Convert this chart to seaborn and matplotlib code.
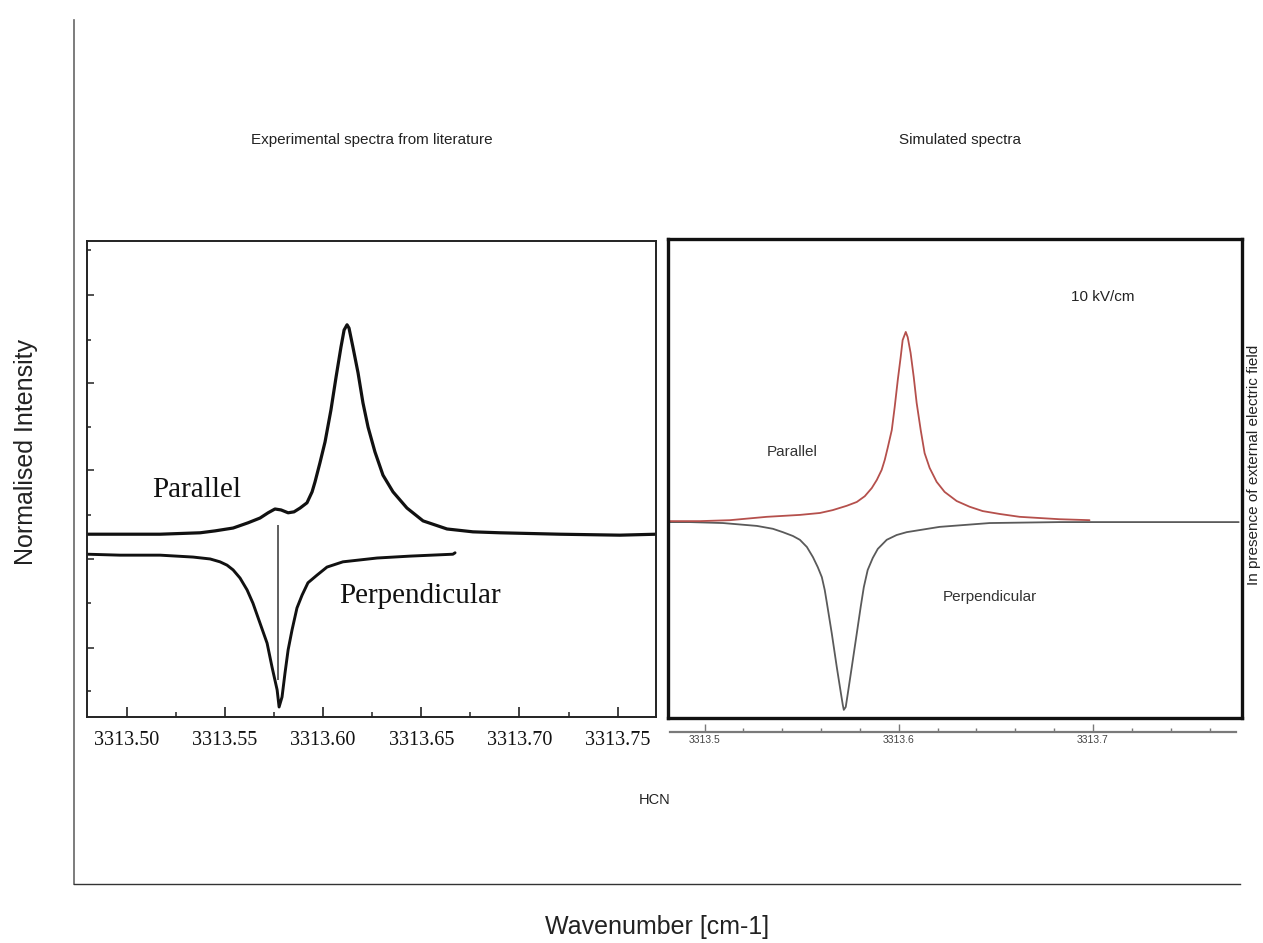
import matplotlib
matplotlib.use("Agg")
import matplotlib.pyplot as plt
import numpy as np
import pandas as pd
import seaborn as sns
from matplotlib.ticker import MultipleLocator, FormatStrFormatter

# ---- Experimental HCN spectra (literature), wavenumber in cm-1, normalised intensity ----
exp_par_wn = [3313.4798, 3313.4966, 3313.5170, 3313.5374, 3313.5450, 3313.5542, 3313.5618,
              3313.5679, 3313.5720, 3313.5755, 3313.5786, 3313.5822, 3313.5852, 3313.5883,
              3313.5918, 3313.5944, 3313.5959, 3313.5984, 3313.6010, 3313.6040, 3313.6066,
              3313.6091, 3313.6107, 3313.6122, 3313.6132, 3313.6152, 3313.6178, 3313.6203,
              3313.6229, 3313.6264, 3313.6305, 3313.6356, 3313.6427, 3313.6509, 3313.6631,
              3313.6763, 3313.6901, 3313.7206, 3313.7511, 3313.7695]
exp_par_int = [0.384, 0.384, 0.384, 0.387, 0.391, 0.397, 0.408,
               0.418, 0.429, 0.437, 0.435, 0.429, 0.431, 0.439,
               0.450, 0.473, 0.494, 0.534, 0.578, 0.645, 0.714,
               0.777, 0.813, 0.824, 0.817, 0.777, 0.723, 0.660,
               0.609, 0.557, 0.508, 0.473, 0.439, 0.412, 0.395,
               0.389, 0.387, 0.384, 0.382, 0.384]

exp_perp_wn = [3313.4798, 3313.4966, 3313.5170, 3313.5338, 3313.5425, 3313.5475, 3313.5511,
               3313.5542, 3313.5577, 3313.5613, 3313.5643, 3313.5679, 3313.5715, 3313.5740,
               3313.5766, 3313.5776, 3313.5791, 3313.5806, 3313.5822, 3313.5842, 3313.5867,
               3313.5893, 3313.5923, 3313.5969, 3313.6020, 3313.6101, 3313.6188, 3313.6275,
               3313.6443, 3313.6661, 3313.6672]
exp_perp_int = [0.342, 0.340, 0.340, 0.336, 0.332, 0.326, 0.319,
                0.309, 0.292, 0.267, 0.239, 0.197, 0.155, 0.105,
                0.057, 0.021, 0.042, 0.092, 0.141, 0.183, 0.229,
                0.256, 0.282, 0.298, 0.315, 0.326, 0.330, 0.334,
                0.338, 0.342, 0.345]

# line-centre marker in the experimental panel
exp_marker_wn = 3313.5773
exp_marker_span = [0.078, 0.403]

# ---- Simulated spectra at 10 kV/cm ----
sim_par_wn = [3313.4812, 3313.4977, 3313.5131, 3313.5321, 3313.5491, 3313.5594, 3313.5660,
              3313.5732, 3313.5784, 3313.5825, 3313.5861, 3313.5887, 3313.5912, 3313.5928,
              3313.5943, 3313.5964, 3313.5979, 3313.5995, 3313.6010, 3313.6020, 3313.6036,
              3313.6046, 3313.6061, 3313.6077, 3313.6092, 3313.6113, 3313.6133, 3313.6159,
              3313.6195, 3313.6236, 3313.6298, 3313.6365, 3313.6432, 3313.6519, 3313.6622,
              3313.6827, 3313.6982]
sim_par_int = [0.411, 0.411, 0.413, 0.420, 0.424, 0.428, 0.434,
               0.443, 0.451, 0.463, 0.480, 0.497, 0.518, 0.539,
               0.564, 0.601, 0.649, 0.706, 0.754, 0.789, 0.806,
               0.795, 0.762, 0.712, 0.658, 0.601, 0.553, 0.522,
               0.493, 0.472, 0.453, 0.441, 0.432, 0.426, 0.420,
               0.415, 0.413]

sim_perp_wn = [3313.4812, 3313.4925, 3313.5095, 3313.5270, 3313.5352, 3313.5403, 3313.5455,
               3313.5491, 3313.5527, 3313.5558, 3313.5583, 3313.5604, 3313.5619, 3313.5630,
               3313.5655, 3313.5681, 3313.5702, 3313.5712, 3313.5717, 3313.5727, 3313.5738,
               3313.5758, 3313.5784, 3313.5804, 3313.5820, 3313.5840, 3313.5866, 3313.5892,
               3313.5938, 3313.5989, 3313.6041, 3313.6210, 3313.6468, 3313.6827, 3313.7750]
sim_perp_int = [0.409, 0.409, 0.407, 0.401, 0.395, 0.388, 0.380,
                0.372, 0.357, 0.336, 0.315, 0.294, 0.267, 0.240,
                0.177, 0.106, 0.052, 0.027, 0.017, 0.023, 0.052,
                0.106, 0.177, 0.232, 0.273, 0.309, 0.334, 0.353,
                0.372, 0.382, 0.388, 0.399, 0.407, 0.409, 0.409]

exp_xticks = [3313.50, 3313.55, 3313.60, 3313.65, 3313.70, 3313.75]
sim_xticks = [3313.5, 3313.6, 3313.7]

sns.set_theme(style="white")
plt.rcParams["font.family"] = ["Liberation Sans", "DejaVu Sans"]

W, H = 1263, 943
fig = plt.figure(figsize=(W / 100, H / 100), dpi=100)


def box(x0, y0, x1, y1):
    return [x0 / W, 1 - y1 / H, (x1 - x0) / W, (y1 - y0) / H]


# ---- outer frame with the shared axis titles ----
ax_f = fig.add_axes(box(74, 20, 1240, 884))
ax_f.patch.set_alpha(0)
ax_f.set_xticks([])
ax_f.set_yticks([])
for s in ["top", "right"]:
    ax_f.spines[s].set_visible(False)
ax_f.spines["left"].set_color("#666666")
ax_f.spines["left"].set_linewidth(1.2)
ax_f.spines["bottom"].set_color("#333333")
ax_f.spines["bottom"].set_linewidth(1.0)
ax_f.set_xlabel("Wavenumber [cm-1]", fontsize=18, labelpad=22, color="#222222")
ax_f.set_ylabel("Normalised Intensity", fontsize=18, labelpad=26, color="#222222")

# ---- experimental panel ----
ax_l = fig.add_axes(box(87, 241, 656, 717))
df_ep = pd.DataFrame({"wn": exp_par_wn, "I": exp_par_int})
df_en = pd.DataFrame({"wn": exp_perp_wn, "I": exp_perp_int})
sns.lineplot(data=df_ep, x="wn", y="I", ax=ax_l, color="#111111", lw=2.3,
             sort=False, estimator=None)
sns.lineplot(data=df_en, x="wn", y="I", ax=ax_l, color="#111111", lw=2.1,
             sort=False, estimator=None)
ax_l.vlines(exp_marker_wn, exp_marker_span[0], exp_marker_span[1], color="#444444", lw=1.2)
ax_l.set_xlim(3313.4798, 3313.7695)
ax_l.set_ylim(0, 1)
ax_l.set_xlabel("")
ax_l.set_ylabel("")
for s in ax_l.spines.values():
    s.set_color("#222222")
    s.set_linewidth(1.4)
ax_l.set_xticks(exp_xticks)
ax_l.xaxis.set_minor_locator(MultipleLocator(0.025))
ax_l.xaxis.set_major_formatter(FormatStrFormatter("%.2f"))
ax_l.set_yticks([0.146, 0.332, 0.518, 0.702, 0.887])
ax_l.set_yticks([0.054, 0.239, 0.424, 0.609, 0.792, 0.981], minor=True)
ax_l.tick_params(axis="x", which="both", bottom=True, direction="in", color="#222222", pad=10)
ax_l.tick_params(axis="x", which="major", length=7, width=1.2)
ax_l.tick_params(axis="x", which="minor", length=3.5, width=1.1)
ax_l.tick_params(axis="y", which="both", left=True, labelleft=False, direction="in", color="#222222")
ax_l.tick_params(axis="y", which="major", length=5, width=1.1)
ax_l.tick_params(axis="y", which="minor", length=3, width=1.1)
for lab in ax_l.get_xticklabels():
    lab.set_fontfamily("Liberation Serif")
    lab.set_fontsize(14.5)
    lab.set_color("#111111")
ax_l.text(3313.5357, 0.463, "Parallel", family="Liberation Serif", fontsize=21,
          ha="center", va="baseline", color="#111111")
ax_l.text(3313.6495, 0.240, "Perpendicular", family="Liberation Serif", fontsize=21,
          ha="center", va="baseline", color="#111111")

# ---- simulated panel ----
ax_r = fig.add_axes(box(668, 239, 1242, 718))
df_sp = pd.DataFrame({"wn": sim_par_wn, "I": sim_par_int})
df_sn = pd.DataFrame({"wn": sim_perp_wn, "I": sim_perp_int})
sns.lineplot(data=df_sn, x="wn", y="I", ax=ax_r, color="#5a5a5a", lw=1.3,
             sort=False, estimator=None)
sns.lineplot(data=df_sp, x="wn", y="I", ax=ax_r, color="#b5504c", lw=1.3,
             sort=False, estimator=None)
ax_r.set_xlim(3313.4812, 3313.7767)
ax_r.set_ylim(0, 1)
ax_r.set_xlabel("")
ax_r.set_ylabel("")
ax_r.set_xticks([])
ax_r.set_yticks([])
for s in ax_r.spines.values():
    s.set_color("#111111")
    s.set_linewidth(2.4)
ax_r.text(3313.5452, 0.546, "Parallel", fontsize=11, ha="center", va="baseline", color="#333333")
ax_r.text(3313.6468, 0.245, "Perpendicular", fontsize=11, ha="center", va="baseline", color="#333333")
ax_r.text(3313.7050, 0.870, "10 kV/cm", fontsize=11, ha="center", va="baseline", color="#222222")

# separate wavenumber scale under the simulated panel
ax_s = fig.add_axes(box(668, 720, 1242, 732))
ax_s.patch.set_alpha(0)
ax_s.set_xlim(3313.4812, 3313.7767)
ax_s.set_yticks([])
for s in ["top", "left", "right"]:
    ax_s.spines[s].set_visible(False)
ax_s.spines["bottom"].set_color("#7a7a7a")
ax_s.spines["bottom"].set_linewidth(1.6)
ax_s.spines["bottom"].set_bounds(3313.4823, 3313.7738)
ax_s.set_xticks(sim_xticks)
ax_s.xaxis.set_minor_locator(MultipleLocator(0.02))
ax_s.xaxis.set_major_formatter(FormatStrFormatter("%.1f"))
ax_s.tick_params(axis="x", which="both", bottom=True, direction="in", color="#7a7a7a",
                 labelsize=7.5, labelcolor="#444444", pad=2)
ax_s.tick_params(axis="x", which="major", length=6, width=1.0)
ax_s.tick_params(axis="x", which="minor", length=3, width=1.0)

# ---- titles and notes ----
fig.text(372 / W, 1 - 140 / H, "Experimental spectra from literature", fontsize=11,
         ha="center", va="center", color="#222222")
fig.text(960 / W, 1 - 140 / H, "Simulated spectra", fontsize=11,
         ha="center", va="center", color="#222222")
fig.text(655 / W, 1 - 800 / H, "HCN", fontsize=10.5, ha="center", va="center", color="#222222")
fig.text(1254 / W, 1 - 465 / H, "In presence of external electric field", fontsize=11,
         rotation=90, ha="center", va="center", color="#222222")

fig.savefig("out.png", dpi=100, facecolor="white")
